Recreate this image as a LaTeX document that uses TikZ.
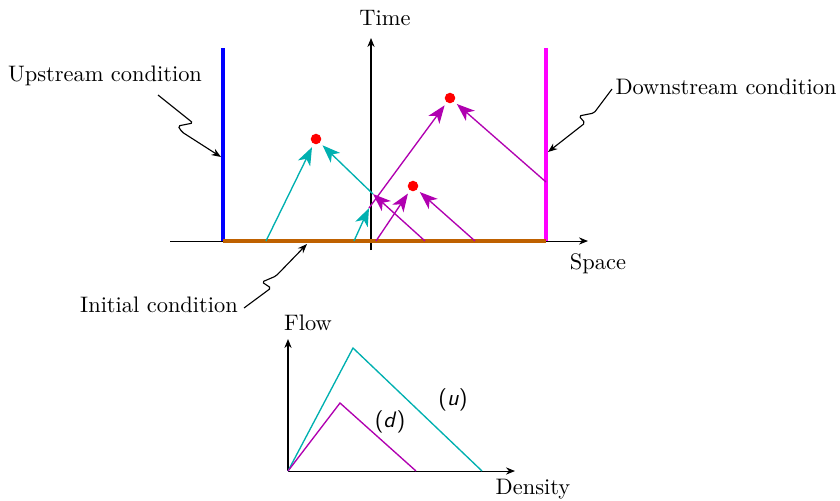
\documentclass[tikz,border=0pt]{standalone}
\usetikzlibrary{arrows.meta}
\definecolor{cya}{rgb}{0,0.69,0.69}
\definecolor{mag}{rgb}{0.69,0,0.69}
\definecolor{pmag}{rgb}{1,0,1}
\definecolor{ora}{rgb}{0.75,0.38,0}
\definecolor{pblue}{rgb}{0,0,1}
\definecolor{pred}{rgb}{1,0,0}
\begin{document}
\begin{tikzpicture}[x=0.446pt,y=-0.446pt,
  axis/.style={line width=0.45pt,-{Stealth[length=4pt,width=3.2pt]}},
  cwave/.style={cya,line width=0.6pt,-{Stealth[length=8pt,width=6pt,inset=2.2pt]}},
  mwave/.style={mag,line width=0.6pt,-{Stealth[length=8pt,width=6pt,inset=2.2pt]}},
  bolt/.style={line width=0.5pt,rounded corners=0.8pt,-{Stealth[length=4.2pt,width=3.2pt]}},
  bound/.style={line width=1.8pt},
  dot/.style={circle,fill=pred,inner sep=0pt,minimum size=4.7pt},
  lbl/.style={inner sep=1pt}]
\useasboundingbox (0,0) rectangle (840,500);
% main axes
\coordinate (xs) at (170,241); \coordinate (xe) at (588,241);
\coordinate (ts) at (371,250); \coordinate (te) at (371,38);
\draw[axis] (xs) -- (xe);
\draw[axis] (ts) -- (te);
\node[lbl] (time) at (385,18) {Time};
\node[lbl] (space) at (598,264) {Space};
% boundaries
\coordinate (ub) at (223,48); \coordinate (ua) at (223,241);
\coordinate (db) at (546,48); \coordinate (da) at (546,241);
\draw[bound,pblue] (ub) -- (ua);
\draw[bound,pmag] (db) -- (da);
\draw[bound,ora] (ua) -- (da);
% dots
\node[dot] (d1) at (316,139) {};
\node[dot] (d2) at (450,98) {};
\node[dot] (d3) at (413,186) {};
% characteristic starts
\coordinate (s1) at (266,241);
\coordinate (s2) at (354,241);
\coordinate (s3) at (376,241);
\coordinate (s4) at (425,241);
\coordinate (s5) at (475,241);
\coordinate (s6) at (546,182);
\coordinate (j1) at (373,194);
\coordinate (j2) at (369,208);
\draw[cwave,shorten >=1.5pt] (s1) -- (d1);
\draw[mwave] (s4) -- (j1);
\draw[cwave,shorten >=1.5pt] (j1) -- (d1);
\draw[cwave] (s2) -- (j2);
\draw[mwave,shorten >=1.5pt] (j2) -- (d2);
\draw[mwave,shorten >=1.5pt] (s6) -- (d2);
\draw[mwave,shorten >=1.5pt] (s3) -- (d3);
\draw[mwave,shorten >=1.5pt] (s5) -- (d3);
% labels with bolts
\node[lbl] (up) at (105,76) {Upstream condition};
\node[lbl] (down) at (726,87) {Downstream condition};
\node[lbl] (init) at (159,305) {Initial condition};
\coordinate (ua1) at (158,95); \coordinate (ua2) at (193,123); \coordinate (ua3) at (178,126); \coordinate (ua4) at (182,132); \coordinate (ua5) at (221,157);
\draw[bolt] (ua1) -- (ua2) -- (ua3) -- (ua4) -- (ua5);
\coordinate (ia1) at (244,308); \coordinate (ia2) at (271,288); \coordinate (ia3) at (262,282); \coordinate (ia4) at (276,276); \coordinate (ia5) at (307,244);
\draw[bolt] (ia1) -- (ia2) -- (ia3) -- (ia4) -- (ia5);
\coordinate (da1) at (612,89); \coordinate (da2) at (594,113); \coordinate (da3) at (579,116); \coordinate (da4) at (585,123); \coordinate (da5) at (548,152);
\draw[bolt] (da1) -- (da2) -- (da3) -- (da4) -- (da5);
% fundamental diagram
\coordinate (o) at (288,471);
\coordinate (fy) at (288,339);
\coordinate (fx) at (515,471);
\draw[axis] (o) -- (fy);
\draw[axis] (o) -- (fx);
\node[lbl] (flow) at (308,323) {Flow};
\node[lbl] (dens) at (533,489) {Density};
\coordinate (uc) at (353,348); \coordinate (ue) at (482,471);
\coordinate (dc) at (340,403); \coordinate (de) at (416,471);
\draw[cya,line width=0.6pt] (o) -- (uc) -- (ue);
\draw[mag,line width=0.6pt] (o) -- (dc) -- (de);
\node[lbl] (ulab) at (453,400) {\textsf{(\textit{u})}};
\node[lbl] (dlab) at (390,422) {\textsf{(\textit{d})}};
\end{tikzpicture}
\end{document}
